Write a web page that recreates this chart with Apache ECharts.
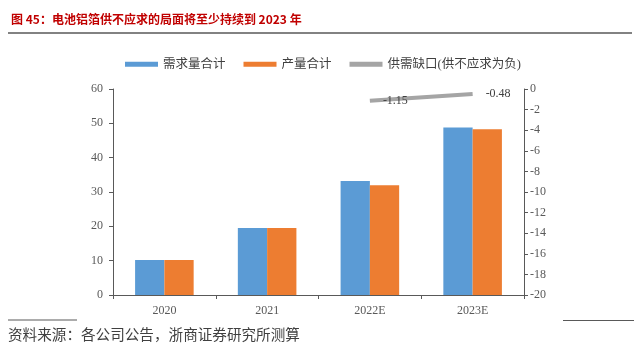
<!DOCTYPE html>
<html>
<head>
<meta charset="utf-8">
<script src="https://cdn.jsdelivr.net/npm/echarts@6/dist/echarts.min.js"></script>
<style>
  html, body { margin: 0; padding: 0; background: #fff; }
  #main { width: 640px; height: 350px; }
</style>
</head>
<body>
<div id="main"></div>
<script>
// 数据
var categories = ['2020', '2021', '2022E', '2023E'];
var demandTotal = [10.2, 19.5, 33.2, 48.8];
var supplyTotal = [10.2, 19.5, 32.0, 48.3];
var gapValues = [null, null, -1.15, -0.48];

var serif = 'Liberation Serif, Noto Sans CJK SC';
var axisColor = '#595959';

var myChart = echarts.init(document.getElementById('main'));

var option = {
  animation: false,
  title: {
    text: '图 45：电池铝箔供不应求的局面将至少持续到 2023 年',
    left: 6,
    top: 8,
    textStyle: { color: '#c00000', fontSize: 12, fontWeight: 'bold', fontFamily: 'Noto Sans CJK SC' }
  },
  legend: {
    left: 120,
    top: 53,
    itemWidth: 33,
    itemHeight: 5,
    itemGap: 18,
    icon: 'rect',
    textStyle: { fontFamily: serif, fontSize: 12.5, color: '#404040' },
    data: ['需求量合计', '产量合计', '供需缺口(供不应求为负)']
  },
  grid: { left: 113, right: 116, top: 89, bottom: 55 },
  xAxis: {
    type: 'category',
    data: categories,
    axisLine: { lineStyle: { color: axisColor, width: 1 } },
    axisTick: { show: true, length: 4, lineStyle: { color: axisColor } },
    axisLabel: { color: axisColor, fontFamily: serif, fontSize: 12, margin: 10 }
  },
  yAxis: [
    {
      type: 'value',
      min: 0, max: 60, interval: 10,
      splitLine: { show: false },
      axisLine: { show: true, lineStyle: { color: axisColor } },
      axisTick: { show: true, length: 4, lineStyle: { color: axisColor } },
      axisLabel: { color: axisColor, fontFamily: serif, fontSize: 12, margin: 10 }
    },
    {
      type: 'value',
      min: -20, max: 0, interval: 2,
      position: 'right',
      splitLine: { show: false },
      axisLine: { show: true, lineStyle: { color: axisColor } },
      axisTick: { show: true, length: 4, lineStyle: { color: axisColor } },
      axisLabel: { color: axisColor, fontFamily: serif, fontSize: 12, margin: 6 }
    }
  ],
  series: [
    {
      name: '需求量合计',
      type: 'bar',
      data: demandTotal,
      barGap: '0%',
      barCategoryGap: '43%',
      itemStyle: { color: '#5b9bd5' }
    },
    {
      name: '产量合计',
      type: 'bar',
      data: supplyTotal,
      itemStyle: { color: '#ed7d31' }
    },
    {
      name: '供需缺口(供不应求为负)',
      type: 'line',
      yAxisIndex: 1,
      data: gapValues,
      symbol: 'circle',
      symbolSize: 0,
      showSymbol: true,
      itemStyle: { color: '#a5a5a5' },
      lineStyle: { color: '#a5a5a5', width: 4 },
      label: {
        show: true,
        position: 'right',
        distance: 13,
        color: '#404040',
        fontFamily: serif,
        fontSize: 12
      }
    }
  ],
  graphic: [
    { type: 'line', shape: { x1: 8, y1: 33, x2: 632, y2: 33 }, style: { stroke: '#595959', lineWidth: 1.5 } },
    { type: 'line', shape: { x1: 8, y1: 320, x2: 77, y2: 320 }, style: { stroke: '#595959', lineWidth: 1 } },
    { type: 'line', shape: { x1: 563, y1: 320.5, x2: 634, y2: 320.5 }, style: { stroke: '#595959', lineWidth: 1 } },
    {
      type: 'text', left: 8, top: 327,
      style: { text: '资料来源：各公司公告，浙商证券研究所测算', fill: '#404040', font: '14.6px Noto Sans CJK SC' }
    }
  ]
};

myChart.setOption(option);
</script>
</body>
</html>
